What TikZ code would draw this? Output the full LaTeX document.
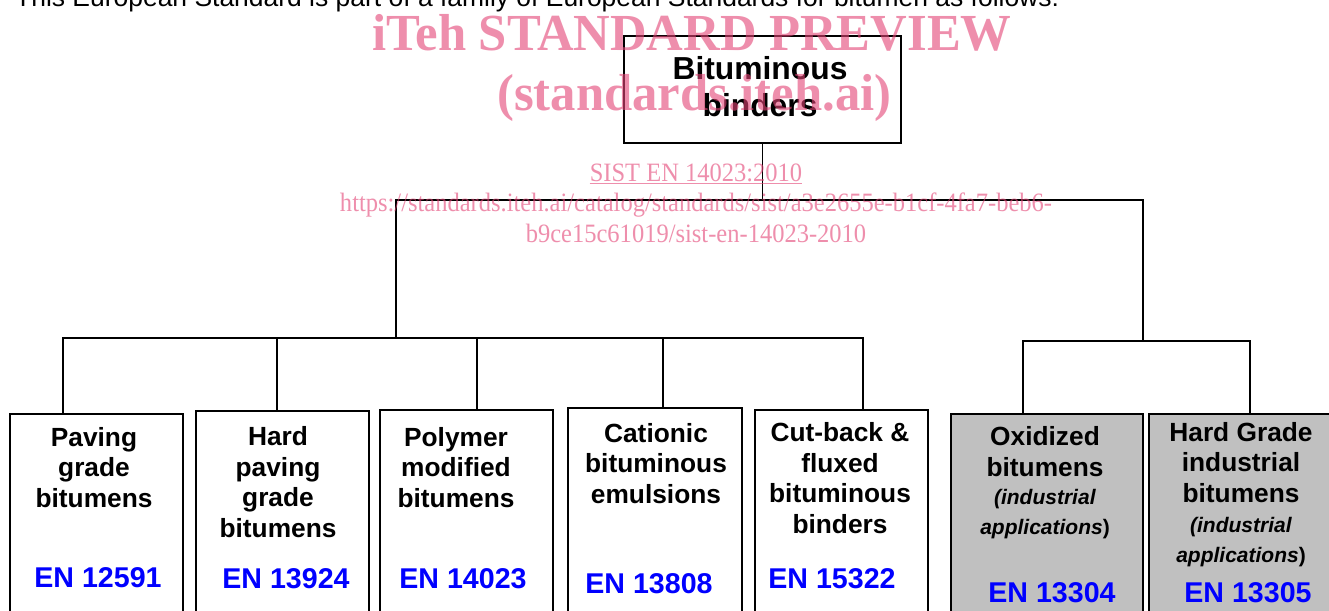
\documentclass[tikz,border=0pt]{standalone}
\usepackage{fontspec}
\setmainfont{Liberation Sans}
\newfontfamily\wmfont[FakeStretch=0.975]{Liberation Serif}
\newfontfamily\wmlink[FakeStretch=0.925]{Liberation Serif}
\definecolor{wmpink}{RGB}{228,68,118}
\definecolor{enblue}{RGB}{0,0,255}
\definecolor{boxgray}{RGB}{192,192,192}
\tikzset{
  box/.style={draw=black, line width=2.2pt, anchor=north west, inner sep=0pt, outer sep=0pt, minimum height=240pt},
  conn/.style={draw=black, line width=1.8pt, line join=miter},
  lbl/.style={anchor=base, align=center, inner sep=0pt, font=\fontsize{26.3}{30.5}\selectfont\bfseries},
  ital/.style={anchor=base, align=center, inner sep=0pt, font=\fontsize{21}{30}\selectfont\bfseries},
  en/.style={anchor=base, inner sep=0pt, text=enblue, font=\fontsize{28.6}{32}\selectfont\bfseries},
  wm/.style={anchor=base west, inner sep=0pt, text=wmpink, text opacity=0.6, font=\wmfont\fontsize{52}{56}\selectfont\bfseries},
  wmsmall/.style={anchor=base, inner sep=0pt, text=wmpink, text opacity=0.6, font=\wmlink\fontsize{26.5}{30}\selectfont},
}
\begin{document}
\begin{tikzpicture}[x=1pt,y=-1pt]
\clip (0,0) rectangle (1329,610);
\fill[white] (0,0) rectangle (1329,610);

% intro sentence (cut at top)
\node[anchor=base west, inner sep=0pt, font=\fontsize{26.45}{30}\selectfont] (intro) at (15,6.5)
  {This European Standard is part of a family of European Standards for bitumen as follows:};

% top box
\node[draw=black, line width=2.2pt, anchor=north west, inner sep=0pt, outer sep=0pt,
      minimum width=277pt, minimum height=107pt] (top) at (624,36) {};
\node[anchor=base, align=center, inner sep=0pt, font=\fontsize{31.8}{37}\selectfont\bfseries]
  (toptext) at (760,116) {Bituminous\\binders};

% boxes
\node[box, minimum width=173pt] (b1) at (10,414) {};
\node[box, minimum width=173pt] (b2) at (196,411) {};
\node[box, minimum width=173pt] (b3) at (380,410) {};
\node[box, minimum width=174pt] (b4) at (568,408) {};
\node[box, minimum width=173pt] (b5) at (755,410) {};
\node[box, fill=boxgray, minimum width=192pt] (b6) at (951,414) {};
\node[box, fill=boxgray, minimum width=200pt] (b7) at (1149,414) {};

% connectors
\coordinate (hubL) at (396,200);
\coordinate (hubR) at (1143,200);
\coordinate (busL) at (63,338);
\coordinate (busR) at (863,338);
\coordinate (d2) at (277,338);
\coordinate (d3) at (477,338);
\coordinate (d4) at (663,338);
\coordinate (busA) at (1023,341);
\coordinate (busB) at (1250,341);

\draw[conn] (top.south) -- (top.south |- hubL);
\draw[conn] (hubL |- busL) -- (hubL) -- (hubR) -- (hubR |- busA);
\draw[conn] (busL |- b1.north) -- (busL) -- (busR) -- (busR |- b5.north);
\draw[conn] (d2) -- (d2 |- b2.north);
\draw[conn] (d3) -- (d3 |- b3.north);
\draw[conn] (d4) -- (d4 |- b4.north);
\draw[conn] (busA |- b6.north) -- (busA) -- (busB) -- (busB |- b7.north);

% labels (anchor = baseline of last line)
\node[lbl] (t1) at (94,507) {Paving\\grade\\bitumens};
\node[lbl] (t2) at (278,537) {Hard\\paving\\grade\\bitumens};
\node[lbl] (t3) at (456,507) {Polymer\\modified\\bitumens};
\node[lbl] (t4) at (656,503) {Cationic\\bituminous\\emulsions};
\node[lbl] (t5) at (840,533) {Cut-back \&\\fluxed\\bituminous\\binders};
\node[lbl] (t6) at (1045,476) {Oxidized\\bitumens};
\node[ital] (i6) at (1045,534) {\textit{(industrial}\\\textit{applications})};
\node[lbl] (t7) at (1241,502) {Hard Grade\\industrial\\bitumens};
\node[ital] (i7) at (1241,562) {\textit{(industrial}\\\textit{applications})};

\node[en] (e1) at (98,587) {EN 12591};
\node[en] (e2) at (286,588) {EN 13924};
\node[en] (e3) at (463,588) {EN 14023};
\node[en] (e4) at (649,593) {EN 13808};
\node[en] (e5) at (832,588) {EN 15322};
\node[en] (e6) at (1052,602) {EN 13304};
\node[en] (e7) at (1248,602) {EN 13305};

% watermark
\node[wm] (wm1) at (372,51) {iTeh STANDARD PREVIEW};
\node[wm] (wm2) at (497,110) {(standards.iteh.ai)};
\node[wmsmall] (wm3) at (696,181) {SIST EN 14023:2010};
\draw[wmpink, opacity=0.6, line width=1.2pt] ([yshift=-2.5pt]wm3.base west) -- ([yshift=-2.5pt]wm3.base east);
\node[wmsmall] (wm4) at (696,211) {https://standards.iteh.ai/catalog/standards/sist/a3e2655e-b1cf-4fa7-beb6-};
\node[wmsmall] (wm5) at (696,242) {b9ce15c61019/sist-en-14023-2010};
\end{tikzpicture}
\end{document}
